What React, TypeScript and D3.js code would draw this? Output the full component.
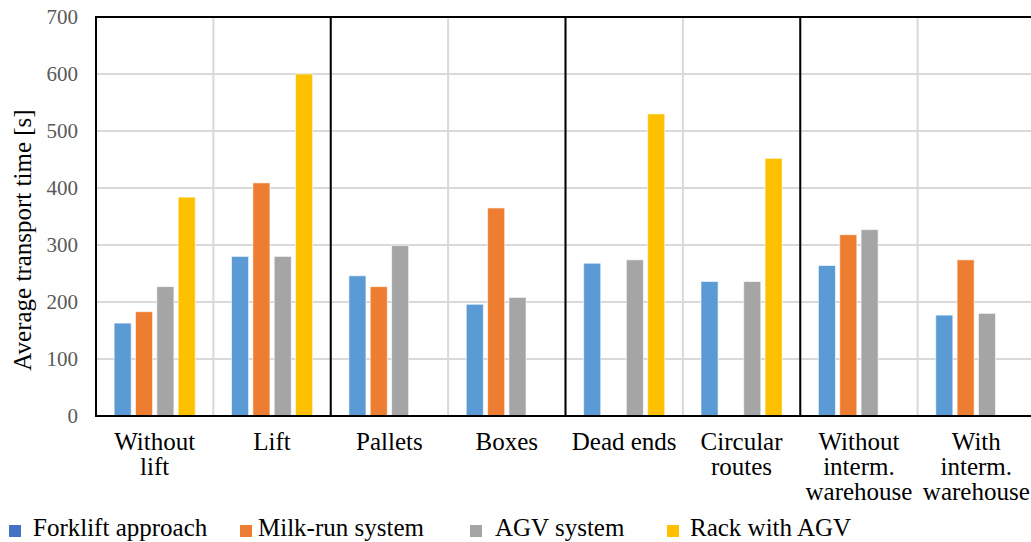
import React from "react";
import * as d3 from "d3";

const categories: string[][] = [
  ["Without", "lift"],
  ["Lift"],
  ["Pallets"],
  ["Boxes"],
  ["Dead ends"],
  ["Circular", "routes"],
  ["Without", "interm.", "warehouse"],
  ["With", "interm.", "warehouse"],
];
const seriesNames = ["Forklift approach", "Milk-run system", "AGV system", "Rack with AGV"];
const forklift = [163, 280, 246, 196, 268, 236, 264, 177];
const milkRun: (number | null)[] = [183, 409, 227, 365, null, null, 318, 274];
const agv = [227, 280, 299, 208, 274, 236, 327, 180];
const rack: (number | null)[] = [384, 600, null, null, 530, 452, null, null];
const yTicks = [0, 100, 200, 300, 400, 500, 600, 700];
const barColors = ["#5b9bd5", "#ed7d31", "#a5a5a5", "#ffc000"];
const legendColors = ["#4472c4", "#ed7d31", "#a5a5a5", "#ffc000"];
const legendX = [9, 240, 470, 667];
const legendTextX = [33, 258, 495, 690];

const FF = "Liberation Serif";

export default function App() {
  const W = 1031, H = 542;
  const left = 96, right = 1035, top = 17, bottom = 416;
  const series = [forklift, milkRun, agv, rack];
  const x = d3.scaleBand<number>().domain(d3.range(categories.length)).range([left, right]).padding(0);
  const y = d3.scaleLinear().domain([0, 700]).range([bottom, top]);
  const inner = d3.scaleBand<number>().domain([0, 1, 2, 3]).range([16, x.bandwidth() - 16]).paddingInner(0.2).paddingOuter(0.1);
  return (
    <svg width={W} height={H} fontFamily={FF} style={{ position: "absolute", left: 0, top: 0 }}>
      <rect x={0} y={0} width={W} height={H} fill="#fff" />
      {yTicks.map((t) => (
        <line key={"g" + t} x1={left} x2={right} y1={y(t)} y2={y(t)} stroke="#d9d9d9" strokeWidth={2} />
      ))}
      {categories.map((_, i) => (
        <line key={"v" + i} x1={x(i)!} x2={x(i)!} y1={top} y2={bottom} stroke="#d9d9d9" strokeWidth={2} />
      ))}
      {series.map((vals, s) =>
        vals.map((v, i) =>
          v == null ? null : (
            <rect
              key={s + "-" + i}
              x={x(i)! + inner(s)!}
              y={y(v)}
              width={inner.bandwidth()}
              height={bottom - y(v)}
              fill={barColors[s]}
              stroke="#ffffff"
              strokeOpacity={0.6}
              strokeWidth={1}
            />
          )
        )
      )}
      {[2, 4, 6].map((i) => (
        <line key={"d" + i} x1={x(i)!} x2={x(i)!} y1={top} y2={bottom} stroke="#000" strokeWidth={2} />
      ))}
      <rect x={left} y={top} width={right - left} height={bottom - top} fill="none" stroke="#000" strokeWidth={2} />
      {yTicks.map((t) => (
        <text key={"t" + t} x={78} y={y(t) + 7} textAnchor="end" fontSize={21} fill="#595959" fontFamily={FF}>
          {t}
        </text>
      ))}
      <text transform={`translate(31,240) rotate(-90)`} textAnchor="middle" fontSize={25} fill="#000" fontFamily={FF}>
        Average transport time [s]
      </text>
      {categories.map((lines, i) =>
        lines.map((l, j) => (
          <text key={"c" + i + "-" + j} x={x(i)! + x.bandwidth() / 2} y={450 + j * 25} textAnchor="middle" fontSize={25} fill="#000" fontFamily={FF}>
            {l}
          </text>
        ))
      )}
      {seriesNames.map((n, s) => (
        <g key={"l" + s}>
          <rect x={legendX[s]} y={525} width={12} height={12} fill={legendColors[s]} />
          <text x={legendTextX[s]} y={536} fontSize={25} fill="#000" fontFamily={FF}>
            {n}
          </text>
        </g>
      ))}
    </svg>
  );
}
